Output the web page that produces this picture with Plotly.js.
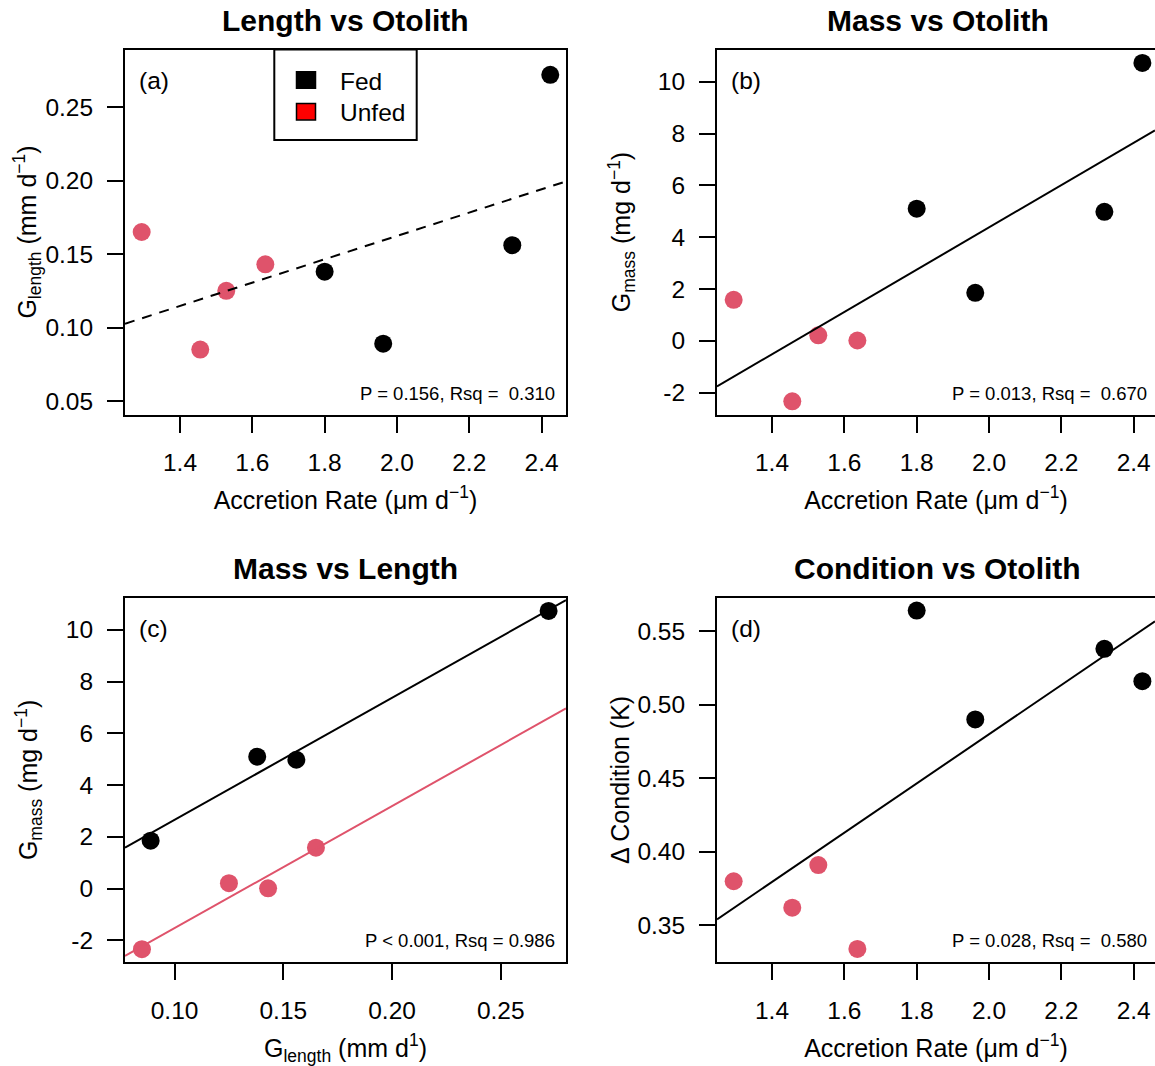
<!DOCTYPE html>
<html>
<head>
<meta charset="utf-8">
<script src="https://cdn.plot.ly/plotly-3.0.1.min.js"></script>
<style>
  html, body { margin: 0; padding: 0; background: #ffffff; overflow: hidden; }
  #chart { width: 1155px; height: 1066px; }
</style>
</head>
<body>
<div id="chart"></div>
<script>
// ---------------- data ----------------
const groups = ["Fed", "Unfed"];
const fedAccretion    = [1.800, 1.962, 2.319, 2.424];
const unfedAccretion  = [1.294, 1.456, 1.528, 1.636];
const fedGlength      = [0.138, 0.089, 0.156, 0.272];
const unfedGlength    = [0.165, 0.085, 0.125, 0.143];
const fedGmass        = [5.10, 1.85, 4.98, 10.73];
const unfedGmass      = [1.58, -2.34, 0.21, 0.01];
const fedCondition    = [0.564, 0.490, 0.538, 0.516];
const unfedCondition  = [0.380, 0.362, 0.391, 0.334];

const panelTitles = ["Length vs Otolith", "Mass vs Otolith", "Mass vs Length", "Condition vs Otolith"];
const panelTags   = ["(a)", "(b)", "(c)", "(d)"];
const statsText   = ["P = 0.156, Rsq = \u00A00.310", "P = 0.013, Rsq = \u00A00.670",
                     "P < 0.001, Rsq = 0.986", "P = 0.028, Rsq = \u00A00.580"];

const accretionTicks    = [1.4, 1.6, 1.8, 2.0, 2.2, 2.4];
const accretionTickText = ["1.4", "1.6", "1.8", "2.0", "2.2", "2.4"];
const glengthTicksA     = [0.05, 0.10, 0.15, 0.20, 0.25];
const glengthTickTextA  = ["0.05", "0.10", "0.15", "0.20", "0.25"];
const gmassTicks        = [-2, 0, 2, 4, 6, 8, 10];
const gmassTickText     = ["-2", "0", "2", "4", "6", "8", "10"];
const glengthTicksC     = [0.10, 0.15, 0.20, 0.25];
const glengthTickTextC  = ["0.10", "0.15", "0.20", "0.25"];
const conditionTicks    = [0.35, 0.40, 0.45, 0.50, 0.55];
const conditionTickText = ["0.35", "0.40", "0.45", "0.50", "0.55"];

// ---------------- helpers ----------------
const W = 1155, H = 1066;
const FONT = "Liberation Sans, Arial, Helvetica, sans-serif";
const RED = "#DF536B";
const px = x => x / W;
const py = y => 1 - y / H;

function mean(a) { return a.reduce((s, v) => s + v, 0) / a.length; }
function ols(x, y) {
  const mx = mean(x), my = mean(y);
  let sxy = 0, sxx = 0;
  for (let i = 0; i < x.length; i++) { sxy += (x[i] - mx) * (y[i] - my); sxx += (x[i] - mx) ** 2; }
  const slope = sxy / sxx;
  return { slope, intercept: my - slope * mx };
}
// common-slope fit (ANCOVA with parallel lines)
function pooledSlope(xs, ys) {
  let sxy = 0, sxx = 0;
  xs.forEach((x, g) => {
    const mx = mean(x), my = mean(ys[g]);
    x.forEach((v, i) => { sxy += (v - mx) * (ys[g][i] - my); sxx += (v - mx) ** 2; });
  });
  return sxy / sxx;
}

// ---------------- panel geometry (pixels) ----------------
const colL = [125, 566], colR = [717, 1155];
const rowT = [49.5, 414.5], rowB = [597.5, 962.3];

const xRangeAcc  = [1.2479, 2.4675];
const xRangeAccR = [1.2479, 2.4589];   // right column is cut by the picture edge
const yRangeA = [0.0408, 0.2892];
const yRangeMass = [-2.848, 11.25];
const xRangeC = [0.0772, 0.2800];
const yRangeD = [0.3249, 0.5729];

// ---------------- traces ----------------
const allAcc = fedAccretion.concat(unfedAccretion);
const fitA = ols(allAcc, fedGlength.concat(unfedGlength));
const fitB = ols(allAcc, fedGmass.concat(unfedGmass));
const fitD = ols(allAcc, fedCondition.concat(unfedCondition));
const slopeC = pooledSlope([fedGlength, unfedGlength], [fedGmass, unfedGmass]);
const intFedC = mean(fedGmass) - slopeC * mean(fedGlength);
const intUnfedC = mean(unfedGmass) - slopeC * mean(unfedGlength);

function pts(x, y, color, xa, ya, name) {
  return { type: "scatter", mode: "markers", x, y, xaxis: xa, yaxis: ya, name,
           marker: { color, size: 18, line: { width: 0 } }, showlegend: false, hoverinfo: "x+y" };
}
function fitLine(range, slope, intercept, xa, ya, color, dash) {
  return { type: "scatter", mode: "lines", x: range, y: range.map(v => intercept + slope * v),
           xaxis: xa, yaxis: ya, line: { color, width: 2, dash: dash || "solid" },
           showlegend: false, hoverinfo: "skip" };
}

const data = [
  pts(unfedAccretion, unfedGlength, RED, "x", "y", "Unfed"),
  pts(fedAccretion, fedGlength, "#000000", "x", "y", "Fed"),
  fitLine(xRangeAcc, fitA.slope, fitA.intercept, "x", "y", "#000000", "10px,8px"),

  pts(unfedAccretion, unfedGmass, RED, "x2", "y2", "Unfed"),
  pts(fedAccretion, fedGmass, "#000000", "x2", "y2", "Fed"),
  fitLine(xRangeAccR, fitB.slope, fitB.intercept, "x2", "y2", "#000000"),

  pts(unfedGlength, unfedGmass, RED, "x3", "y3", "Unfed"),
  pts(fedGlength, fedGmass, "#000000", "x3", "y3", "Fed"),
  fitLine(xRangeC, slopeC, intFedC, "x3", "y3", "#000000"),
  fitLine(xRangeC, slopeC, intUnfedC, "x3", "y3", RED),

  pts(unfedAccretion, unfedCondition, RED, "x4", "y4", "Unfed"),
  pts(fedAccretion, fedCondition, "#000000", "x4", "y4", "Fed"),
  fitLine(xRangeAccR, fitD.slope, fitD.intercept, "x4", "y4", "#000000")
];

// ---------------- axes ----------------
function axis(extra) {
  return Object.assign({
    showline: true, linecolor: "#000000", linewidth: 2,
    ticks: "outside", ticklen: 16, tickwidth: 2, tickcolor: "#000000",
    showgrid: false, zeroline: false, automargin: false, fixedrange: true,
    tickfont: { family: FONT, size: 24.5, color: "#000000" },
    tickmode: "array"
  }, extra);
}
const xTitleFont = { family: FONT, size: 25, color: "#000000" };
const accTitle = "Accretion Rate (μm d<sup>−1</sup>)";
const XLAB_STANDOFF = 9, YLAB_STANDOFF = 9, XTITLE_STANDOFF = 16.5;

const layout = {
  width: W, height: H,
  margin: { l: 0, r: 0, t: 0, b: 0, pad: 0 },
  paper_bgcolor: "#ffffff", plot_bgcolor: "#ffffff",
  showlegend: false,
  font: { family: FONT, size: 24, color: "#000000" },

  xaxis: axis({ domain: [px(colL[0]), px(colL[1])], anchor: "y", range: xRangeAcc, mirror: true,
    tickvals: accretionTicks, ticktext: accretionTickText, ticklabelstandoff: XLAB_STANDOFF,
    title: { text: accTitle, font: xTitleFont, standoff: XTITLE_STANDOFF } }),
  yaxis: axis({ domain: [py(rowT[1]), py(rowT[0])], anchor: "x", range: yRangeA, mirror: true,
    tickvals: glengthTicksA, ticktext: glengthTickTextA, ticklabelstandoff: YLAB_STANDOFF,
    title: { text: "G<sub>length</sub> (mm d<sup>−1</sup>)", font: xTitleFont, standoff: 2 } }),

  xaxis2: axis({ domain: [px(colR[0]), 1], anchor: "y2", range: xRangeAccR, mirror: true,
    tickvals: accretionTicks, ticktext: accretionTickText, ticklabelstandoff: XLAB_STANDOFF,
    title: { text: accTitle, font: xTitleFont, standoff: XTITLE_STANDOFF } }),
  yaxis2: axis({ domain: [py(rowT[1]), py(rowT[0])], anchor: "x2", range: yRangeMass, mirror: false,
    tickvals: gmassTicks, ticktext: gmassTickText, ticklabelstandoff: YLAB_STANDOFF,
    title: { text: "G<sub>mass</sub> (mg d<sup>−1</sup>)", font: xTitleFont, standoff: 20 } }),

  xaxis3: axis({ domain: [px(colL[0]), px(colL[1])], anchor: "y3", range: xRangeC, mirror: true,
    tickvals: glengthTicksC, ticktext: glengthTickTextC, ticklabelstandoff: XLAB_STANDOFF,
    title: { text: "G<sub>length</sub> (mm d<sup>1</sup>)", font: xTitleFont, standoff: XTITLE_STANDOFF } }),
  yaxis3: axis({ domain: [py(rowB[1]), py(rowB[0])], anchor: "x3", range: yRangeMass, mirror: true,
    tickvals: gmassTicks, ticktext: gmassTickText, ticklabelstandoff: YLAB_STANDOFF,
    title: { text: "G<sub>mass</sub> (mg d<sup>−1</sup>)", font: xTitleFont, standoff: 21 } }),

  xaxis4: axis({ domain: [px(colR[0]), 1], anchor: "y4", range: xRangeAccR, mirror: true,
    tickvals: accretionTicks, ticktext: accretionTickText, ticklabelstandoff: XLAB_STANDOFF,
    title: { text: accTitle, font: xTitleFont, standoff: XTITLE_STANDOFF } }),
  yaxis4: axis({ domain: [py(rowB[1]), py(rowB[0])], anchor: "x4", range: yRangeD, mirror: false,
    tickvals: conditionTicks, ticktext: conditionTickText, ticklabelstandoff: YLAB_STANDOFF,
    title: { text: "Δ Condition (K)", font: xTitleFont, standoff: 1 } }),

  shapes: [], annotations: []
};

// panel titles, tags and statistics
const fullColR = [717, 1158];           // full width of the right column box (edge is cropped)
const cols = [colL, fullColR, colL, fullColR];
const rows = [rowT, rowT, rowB, rowB];
const titleY = [20.8, 20.8, 568, 568];
for (let i = 0; i < 4; i++) {
  const c = cols[i], r = rows[i];
  layout.annotations.push({
    xref: "paper", yref: "paper", x: px((c[0] + c[1]) / 2), y: py(titleY[i]),
    xanchor: "center", yanchor: "middle", showarrow: false, text: "<b>" + panelTitles[i] + "</b>",
    font: { family: FONT, size: 30, color: "#000000" }
  });
  layout.annotations.push({
    xref: "paper", yref: "paper", x: px(c[0] + 12), y: py(r[0] + 31),
    xanchor: "left", yanchor: "middle", showarrow: false, text: panelTags[i],
    font: { family: FONT, size: 24.5, color: "#000000" }
  });
  layout.annotations.push({
    xref: "paper", yref: "paper", x: px(c[1] - 9.3), y: py(r[1] - 21.5),
    xanchor: "right", yanchor: "middle", showarrow: false, text: statsText[i],
    font: { family: FONT, size: 18.5, color: "#000000" }
  });
}

// legend box of panel (a)
layout.shapes.push({ type: "rect", xref: "paper", yref: "paper",
  x0: px(274.3), x1: px(416.7), y0: py(140), y1: py(49.5),
  line: { color: "#000000", width: 2 }, fillcolor: "#ffffff", layer: "above" });
const legendFill = ["#000000", "#FF0000"];
const legendRowY = [80, 111.7];
for (let i = 0; i < groups.length; i++) {
  layout.shapes.push({ type: "rect", xref: "paper", yref: "paper",
    x0: px(296.5), x1: px(315.5), y0: py(legendRowY[i] + 8.2), y1: py(legendRowY[i] - 8.2),
    line: { color: "#000000", width: 1.5 }, fillcolor: legendFill[i], layer: "above" });
  layout.annotations.push({ xref: "paper", yref: "paper", x: px(338), y: py(legendRowY[i] + 1),
    xanchor: "left", yanchor: "middle", showarrow: false, text: groups[i],
    font: { family: FONT, size: 24.5, color: "#000000" } });
}

Plotly.newPlot("chart", data, layout, { displayModeBar: false });
</script>
</body>
</html>
